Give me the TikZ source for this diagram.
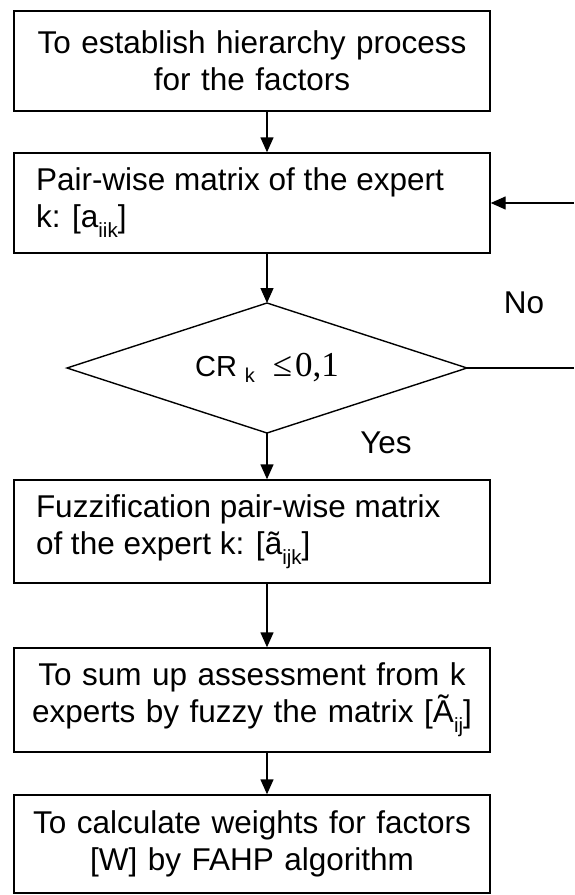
\documentclass[tikz,border=0pt]{standalone}
\usepackage{fontspec}
\setmainfont{Liberation Sans}
\newfontfamily\serifnum{Liberation Serif}
\usetikzlibrary{arrows.meta}
\newcommand\mysub[1]{\raisebox{-10pt}{\fontsize{20.5}{20.5}\selectfont #1}}
\begin{document}
\begin{tikzpicture}[x=1pt,y=-1pt,
  stepbox/.style={draw, line width=1.4pt, minimum width=476pt, inner xsep=18pt, inner ysep=0pt, text width=440pt, font=\fontsize{31.5}{37}\selectfont},
  lbox/.style={stepbox, inner xsep=22pt, text width=432pt, align=flush left},
  cbox/.style={stepbox, align=center},
  plainline/.style={line width=1.4pt},
  flow/.style={plainline, -{Triangle[length=15pt,width=13pt]}},
  lbl/.style={font=\fontsize{31.5}{37}\selectfont}]
\useasboundingbox (0,0) rectangle (574,895);
\node[cbox, minimum height=100pt] (b1) at (252,61) {To establish hierarchy process\\for the factors};
\node[lbox, minimum height=100pt] (b2) at (252,203) {Pair-wise matrix of the expert\\k: [a\mysub{iik}]};
\coordinate (dn) at (267,303);
\coordinate (ds) at (267,433);
\coordinate (de) at (467,368);
\coordinate (dw) at (67,368);
\draw[plainline, line join=miter] (dn) -- (de) -- (ds) -- (dw) -- cycle;
\node[inner sep=0pt] (d) at (267,368)
  {{\fontsize{29}{29}\selectfont CR\hspace{8pt}\raisebox{-6pt}{\fontsize{20}{20}\selectfont k}}\hspace{18pt}{\serifnum\fontsize{35}{35}\selectfont ≤\hspace{3pt}0,1}};
\node[lbox, minimum height=103pt] (b3) at (252,531.5) {Fuzzification pair-wise matrix\\of the expert k: [ã\mysub{ijk}]};
\node[cbox, minimum height=104pt] (b4) at (252,700) {To sum up assessment from k\\experts by fuzzy the matrix [Ã\mysub{ij}]};
\node[cbox, minimum height=98pt] (b5) at (252,844) {To calculate weights for factors\\{}[W] by FAHP algorithm};
\node[lbl] (no) at (524,303) {No};
\node[lbl] (yes) at (386,443) {Yes};
\coordinate (r1) at (574,368);
\coordinate (r2) at (574,203);
\draw[flow] (b1.south -| dn) -- (b2.north -| dn);
\draw[flow] (b2.south -| dn) -- (dn);
\draw[flow] (ds) -- (b3.north -| ds);
\draw[flow] (b3.south -| ds) -- (b4.north -| ds);
\draw[flow] (b4.south -| ds) -- (b5.north -| ds);
\draw[plainline] (de) -- (r1);
\draw[flow] (r2) -- (b2.east);
\end{tikzpicture}
\end{document}
